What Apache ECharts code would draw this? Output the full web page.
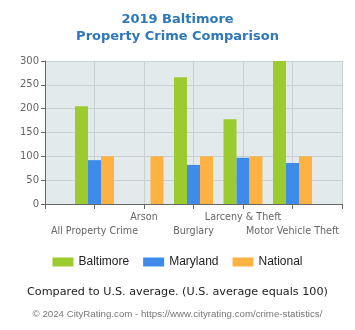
<!DOCTYPE html>
<html><head><meta charset="utf-8">
<script src="https://cdn.jsdelivr.net/npm/echarts@6/dist/echarts.min.js"></script>
<style>html,body{margin:0;padding:0;background:#fff}#c{width:355px;height:330px}</style>
</head><body><div id="c"></div>
<script>
const categories = ['', 'All Property Crime', 'Arson', 'Burglary', 'Larceny & Theft', 'Motor Vehicle Theft', ''];
const baltimore = [null, 205, null, 266, 178, 300, null];
const maryland = [null, 92, null, 82, 97, 86, null];
const national = [null, 100, 100, 100, 100, 100, null];
const yTicks = [0, 50, 100, 150, 200, 250, 300];

const chart = echarts.init(document.getElementById('c'), null, {renderer: 'canvas'});
const mk = (name, data, color) => ({
  name, type: 'bar', data, barWidth: 13, barGap: '0%',
  itemStyle: {color}, animation: false
});
chart.setOption({
  animation: false,
  title: [
    {text: '2019 Baltimore\nProperty Crime Comparison', left: 'center', top: 6,
     textStyle: {fontFamily: 'DejaVu Sans', fontWeight: 'bold', fontSize: 13, color: '#2F78B8', lineHeight: 17}},
    {text: 'Compared to U.S. average. (U.S. average equals 100)', left: 'center', top: 282,
     textStyle: {fontFamily: 'DejaVu Sans', fontWeight: 'normal', fontSize: 11.2, color: '#222'}},
    {text: '© 2024 CityRating.com - https://www.cityrating.com/crime-statistics/', left: 'center', top: 304,
     textStyle: {fontFamily: 'Liberation Sans', fontWeight: 'normal', fontSize: 9.7, color: '#777'}}
  ],
  legend: {
    top: 251, left: 'center', itemWidth: 21, itemHeight: 9, itemGap: 14,
    icon: 'rect',
    textStyle: {fontFamily: 'Liberation Sans', fontSize: 12, color: '#222'},
    data: ['Baltimore', 'Maryland', 'National']
  },
  grid: {left: 45, right: 13, top: 61, height: 143, containLabel: false,
         show: true, backgroundColor: '#E3EAEC', borderWidth: 0},
  xAxis: {
    type: 'category', data: categories, boundaryGap: false,
    axisLine: {lineStyle: {color: '#666'}},
    axisTick: {show: true, length: 5, lineStyle: {color: '#666'}},
    splitLine: {show: true, lineStyle: {color: '#C9D0D3'}},
    axisLabel: {
      interval: 0, margin: 6, fontFamily: 'DejaVu Sans', fontSize: 9.6, color: '#666', lineHeight: 14,
      formatter: (v, i) => v === '' ? '' : (i % 2 === 1 ? '\n' + v : v)
    }
  },
  yAxis: {
    type: 'value', min: 0, max: 300, interval: 50,
    axisLine: {show: true, lineStyle: {color: '#666'}},
    axisTick: {show: true, length: 4, lineStyle: {color: '#666'}},
    splitLine: {show: true, lineStyle: {color: '#C9D0D3'}},
    axisLabel: {fontFamily: 'DejaVu Sans', fontSize: 10, color: '#666', margin: 6,
      formatter: v => yTicks.includes(v) ? String(v) : ''}
  },
  series: [
    mk('Baltimore', baltimore, '#9BCB2F'),
    mk('Maryland', maryland, '#3F8BEA'),
    mk('National', national, '#FDB242')
  ]
});
</script></body></html>
